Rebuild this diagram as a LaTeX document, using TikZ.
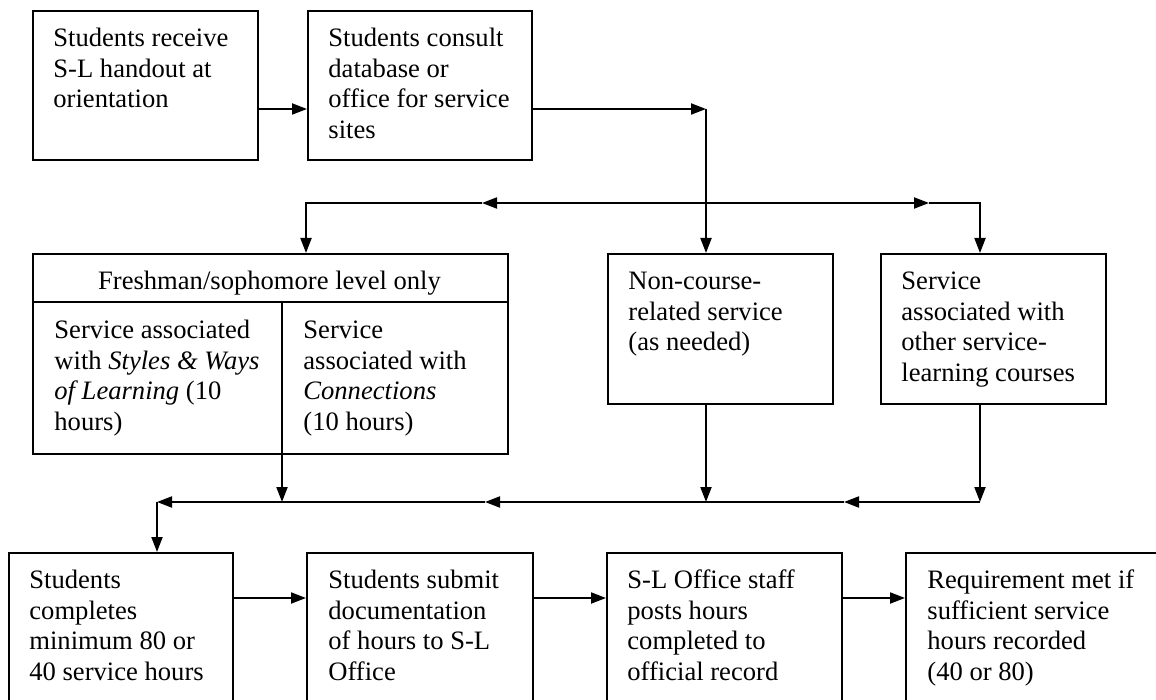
\documentclass[tikz,border=0pt]{standalone}
\usepackage{fontspec}
\setmainfont{Liberation Serif}
\usetikzlibrary{arrows.meta}
\begin{document}
\begin{tikzpicture}[x=0.5pt,y=-0.5pt,
  box/.style={draw, line width=1pt, rectangle, anchor=north west, inner sep=0pt},
  txt/.style={anchor=north west, align=left, inner sep=0pt,
    font=\fontsize{13.3pt}{15.3pt}\selectfont},
  arr/.style={line width=1pt, -{Triangle[length=7.5pt,width=5.5pt]}},
  ln/.style={line width=1pt}]
\useasboundingbox (0,0) rectangle (1156,700);

% boxes
\node[box, minimum width=112.5pt, minimum height=74.5pt] (b1) at (32,10) {};
\node[box, minimum width=112pt,   minimum height=74.5pt] (b2) at (307,10) {};
\node[box, minimum width=237.5pt, minimum height=100pt]  (fr) at (32,253) {};
\node[box, minimum width=112.5pt, minimum height=75pt]   (nc) at (607,253) {};
\node[box, minimum width=112.5pt, minimum height=75pt]   (rb) at (880,253) {};
\node[box, minimum width=112pt,   minimum height=80pt]   (d1) at (8,552) {};
\node[box, minimum width=113pt,   minimum height=80pt]   (d2) at (306,552) {};
\node[box, minimum width=117.5pt, minimum height=80pt]   (d3) at (606,552) {};
\node[box, minimum width=130pt,   minimum height=80pt]   (d4) at (905,552) {};

% texts
\node[txt] (b1t) at (53,24.6) {\strut Students receive\\S-L handout at\\orientation};
\node[txt] (b2t) at (328,24.6) {\strut Students consult\\database or\\office for service\\sites};
\node[font=\fontsize{13.3pt}{15.3pt}\selectfont, anchor=base, inner sep=0pt] (frh) at (269.5,289) {Freshman/sophomore level only};
\node[txt] (fr1) at (54,316.6) {\strut Service associated\\with \textit{Styles \& Ways}\\\textit{of Learning} (10\\hours)};
\node[txt] (fr2) at (303,316.6) {\strut Service\\associated with\\\textit{Connections}\\(10 hours)};
\node[txt] (nct) at (628,267.6) {\strut Non-course-\\related service\\(as needed)};
\node[txt] (rbt) at (901,267.6) {\strut Service\\associated with\\other service-\\learning courses};
\node[txt] (d1t) at (29,566.6) {\strut Students\\completes\\minimum 80 or\\40 service hours};
\node[txt] (d2t) at (328,566.6) {\strut Students submit\\documentation\\of hours to S-L\\Office};
\node[txt] (d3t) at (627,566.6) {\strut S-L Office staff\\posts hours\\completed to\\official record};
\node[txt] (d4t) at (927,566.6) {\strut Requirement met if\\sufficient service\\hours recorded\\(40 or 80)};

% junction points
\coordinate (t1) at (706,109);
\coordinate (hA) at (706,203);
\coordinate (hM) at (482,203);
\coordinate (hL) at (306,203);
\coordinate (hS) at (655,203);
\coordinate (hR1) at (929,203);
\coordinate (hR) at (980,203);
\coordinate (hd) at (282,302);
\coordinate (mR) at (980,502);
\coordinate (m1) at (844,502);
\coordinate (m2) at (706,502);
\coordinate (m3) at (485,502);
\coordinate (m4) at (282,502);
\coordinate (mL) at (157,502);
\coordinate (yb) at (0,598);

% header and column divider of the freshman box
\draw[ln] (fr.west |- hd) -- (fr.east |- hd);

% top row
\draw[arr] (b1.east |- t1) -- (b2.west |- t1);
\draw[arr] (b2.east |- t1) -- (t1);
\draw[arr] (t1) -- (t1 |- nc.north);

% split line
\draw[arr] (hA) -- (hM);
\draw[arr] (hM) -- (hL) -- (hL |- fr.north);
\draw[arr] (hS) -- (hR1);
\draw[arr] (hR1) -- (hR) -- (hR |- rb.north);

% into the merge line
\draw[arr] (hd) -- (m4);
\draw[arr] (t1 |- nc.south) -- (m2);
\draw[arr] (hR |- rb.south) -- (mR);
\draw[arr] (mR) -- (m1);
\draw[arr] (m1) -- (m3);
\draw[arr] (m3) -- (mL);
\draw[arr] (mL) -- (mL |- d1.north);

% bottom row
\draw[arr] (d1.east |- yb) -- (d2.west |- yb);
\draw[arr] (d2.east |- yb) -- (d3.west |- yb);
\draw[arr] (d3.east |- yb) -- (d4.west |- yb);
\end{tikzpicture}
\end{document}
